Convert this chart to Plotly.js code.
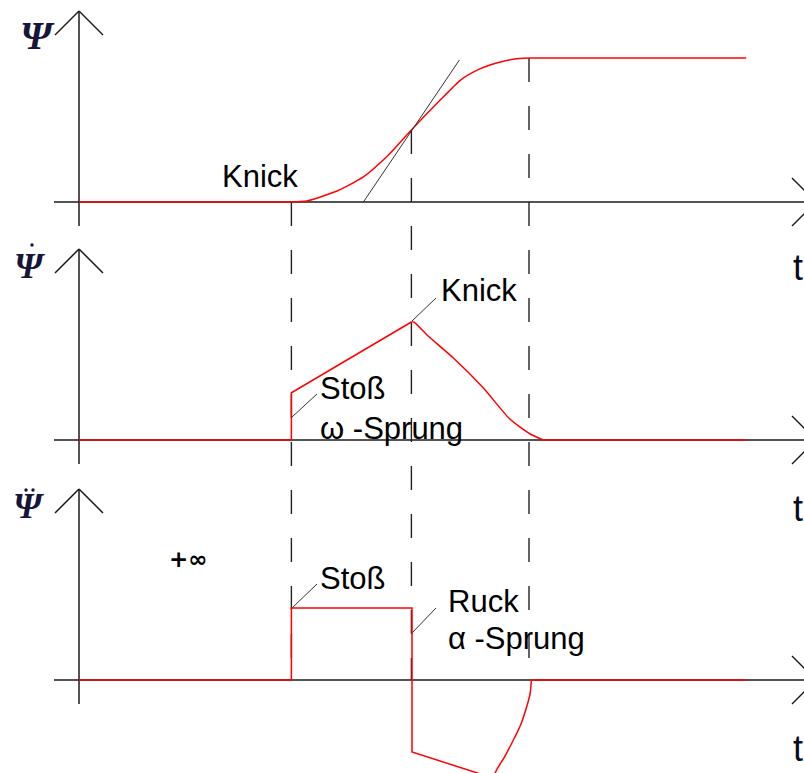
<!DOCTYPE html>
<html>
<head>
<meta charset="utf-8">
<script src="https://cdn.plot.ly/plotly-3.0.1.min.js"></script>
<style>
  html, body { margin: 0; padding: 0; background: #fff; }
  #plot { width: 804px; height: 773px; }
</style>
</head>
<body>
<div id="plot"></div>
<script>
// times of the three marked instants (dashed lines) and end of the curves
const tMarks = [1.77, 2.77, 3.75];
const tEnd = 5.56;

// psi (angle)
const psiT = [0, 1.77];
const psiV = [0, 0];
const psiCurveT = [1.77, 1.90, 2.15, 2.37, 2.57, 2.77, 3.01, 3.18, 3.34, 3.48, 3.63, 3.75];
const psiCurveV = [0, 0.007, 0.076, 0.174, 0.319, 0.5, 0.708, 0.847, 0.924, 0.965, 0.993, 1.0];
const psiEndT = [3.75, tEnd];
const psiEndV = [1, 1];
// tangent in the turning point
const tanT = [2.37, 3.17];
const tanV = [0, 0.986];

// psi dot (angular velocity)
const omT = [0, 1.77, 1.77, 2.77];
const omV = [0, 0, 0.40, 1.0];
const omCurveT = [2.77, 2.79, 2.90, 3.12, 3.37, 3.59, 3.76, 3.87];
const omCurveV = [1.0, 1.0, 0.89, 0.695, 0.44, 0.178, 0.051, 0];
const omEndT = [3.87, tEnd];
const omEndV = [0, 0];

// psi double dot (angular acceleration)
const alT = [0, 1.77, 1.77, 2.775, 2.775, 3.45];
const alV = [0, 0, 1, 1, -1, -1.361];
const alCurveT = [3.45, 3.48, 3.55, 3.62, 3.68, 3.73, 3.76, 3.77];
const alCurveV = [-1.361, -1.25, -1.056, -0.833, -0.625, -0.375, -0.181, 0];
const alEndT = [3.77, tEnd];
const alEndV = [0, 0];

// page geometry
const W = 804, H = 773;
const X0 = 79, TPX = 120;          // pixel of t=0, pixels per t unit
const panels = [
  {base: 202, unit: 144},
  {base: 440, unit: 118},
  {base: 680, unit: 72}
];

const px = x => x / W;
const py = y => 1 - y / H;
const paperY = (p, v) => py(panels[p].base - v * panels[p].unit);

function seg(x0, y0, x1, y1, color, width) {
  return {type: 'line', xref: 'paper', yref: 'paper', layer: 'below',
    x0: px(x0), y0: py(y0), x1: px(x1), y1: py(y1),
    line: {color: color || '#1a1a1a', width: width || 1.5}};
}
function dot(cx, cy) {
  const r = 1.7;
  return {type: 'circle', xref: 'paper', yref: 'paper',
    x0: px(cx - r), x1: px(cx + r), y0: py(cy - r), y1: py(cy + r),
    fillcolor: '#16163a', line: {width: 0}};
}

let shapes = [];
// arrow axes for each panel
for (const p of panels) {
  const b = p.base;
  shapes.push(seg(X0, b + 24, X0, b - 191));
  shapes.push(seg(X0 - 24, b - 167, X0, b - 191));
  shapes.push(seg(X0, b - 191, X0 + 24, b - 167));
  shapes.push(seg(54, b, 816, b));
  shapes.push(seg(792, b - 24, 816, b));
  shapes.push(seg(792, b + 24, 816, b));
}
// dashed guide lines
const dashTop = [paperY(0, 0), paperY(0, 0.5), paperY(0, 1)];
tMarks.forEach((t, i) => {
  shapes.push({type: 'line', xref: 'x', yref: 'paper', layer: 'below',
    x0: t, x1: t, y0: dashTop[i], y1: paperY(2, 0),
    line: {color: '#222', width: 1.4, dash: '24px,24px'}});
});
// leader lines of the labels
shapes.push(seg(412, 321, 436, 298, '#333', 1));
shapes.push(seg(292, 417, 317, 394, '#333', 1));
shapes.push(seg(292, 608, 317, 584, '#333', 1));
shapes.push(seg(412, 633, 436, 608, '#333', 1));
// dots over the psi symbols
shapes.push(dot(32, 245));
shapes.push(dot(26, 490));
shapes.push(dot(33, 490));

const red = {color: '#ff0000', width: 1.5};
function tr(x, y, ax, smooth) {
  return {x: x, y: y, yaxis: ax, type: 'scatter', mode: 'lines',
    line: Object.assign({}, red, smooth ? {shape: 'spline', smoothing: 0.6} : {}),
    hoverinfo: 'skip'};
}

let data = [
  tr(psiT, psiV, 'y'),
  tr(psiCurveT, psiCurveV, 'y', true),
  tr(psiEndT, psiEndV, 'y'),
  {x: tanT, y: tanV, yaxis: 'y', type: 'scatter', mode: 'lines',
    line: {color: '#333', width: 1}, hoverinfo: 'skip'},
  tr(omT, omV, 'y2'),
  tr(omCurveT, omCurveV, 'y2', true),
  tr(omEndT, omEndV, 'y2'),
  tr(alT, alV, 'y3'),
  tr(alCurveT, alCurveV, 'y3', true),
  tr(alEndT, alEndV, 'y3')
];

const txtFont = {family: 'Liberation Sans, Arial, sans-serif', size: 31, color: '#000'};
function label(text, x, y, font, anchor) {
  return {text: text, xref: 'paper', yref: 'paper', x: px(x), y: py(y),
    xanchor: anchor || 'left', yanchor: 'middle', showarrow: false,
    font: font || txtFont};
}
const psiFont = size => ({family: 'Liberation Serif, Times New Roman, serif', size: size,
  color: '#16163a', style: 'italic', weight: 'bold'});
const tFont = {family: 'Liberation Sans, Arial, sans-serif', size: 36, color: '#0a0a1a'};

let annotations = [
  label('Ψ', 37, 36, psiFont(40), 'center'),
  label('Ψ', 29, 266, psiFont(36), 'center'),
  label('Ψ', 28, 506, psiFont(36), 'center'),
  label('t', 791, 268, tFont),
  label('t', 791, 508, tFont),
  label('t', 791, 748, tFont),
  label('Knick', 220, 176),
  label('Knick', 439, 290),
  label('Stoß', 318, 388),
  label('ω -Sprung', 318, 429),
  label('Stoß', 318, 578),
  label('Ruck', 446, 601),
  label('α -Sprung', 446, 638),
  label('+∞', 188, 559, {family: 'DejaVu Sans, sans-serif', size: 23, color: '#000', weight: 'bold'}, 'center')
];

function yax(p, extra) {
  const b = panels[p].base, u = panels[p].unit;
  return Object.assign({range: [(b - H) / u, b / u], visible: false, fixedrange: true}, extra || {});
}

let layout = {
  width: W, height: H,
  margin: {l: 0, r: 0, t: 0, b: 0},
  paper_bgcolor: '#fff', plot_bgcolor: '#fff',
  showlegend: false,
  hovermode: false,
  xaxis: {range: [-X0 / TPX, (W - X0) / TPX], visible: false, fixedrange: true},
  yaxis: yax(0),
  yaxis2: yax(1, {overlaying: 'y'}),
  yaxis3: yax(2, {overlaying: 'y'}),
  shapes: shapes,
  annotations: annotations
};

Plotly.newPlot('plot', data, layout, {staticPlot: true});
</script>
</body>
</html>
